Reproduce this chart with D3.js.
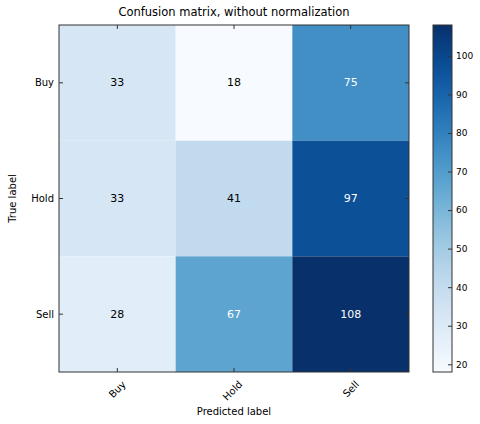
<!DOCTYPE html>
<html><head><meta charset="utf-8">
<script src="https://cdn.jsdelivr.net/npm/d3@7"></script>
<style>body{margin:0;background:#fff;}text{font-family:"DejaVu Sans",sans-serif;}</style>
</head><body><svg id="c" width="480" height="424"></svg>
<script>
const classes = ["Buy","Hold","Sell"];
const row_Buy = [33, 18, 75];
const row_Hold = [33, 41, 97];
const row_Sell = [28, 67, 108];
const matrix = [row_Buy, row_Hold, row_Sell];
const cbTicks = [20,30,40,50,60,70,80,90,100];
const title = "Confusion matrix, without normalization";

const svg = d3.select("#c");
const L=59, R=409, T=25, B=372;
const x = d3.scaleBand().domain(classes).range([L,R]);
const y = d3.scaleBand().domain(classes).range([T,B]);
const all = matrix.flat();
const vmin = d3.min(all), vmax = d3.max(all);
const color = d3.scaleSequential(d3.interpolateBlues).domain([vmin,vmax]);

const cells=[];
matrix.forEach((r,i)=>r.forEach((v,j)=>cells.push({t:classes[i],p:classes[j],v})));
svg.selectAll("rect.cell").data(cells).enter().append("rect")
  .attr("x",d=>x(d.p)).attr("y",d=>y(d.t)).attr("width",x.bandwidth()).attr("height",y.bandwidth())
  .attr("fill",d=>color(d.v));
const thresh = vmax/2;
svg.selectAll("text.val").data(cells).enter().append("text")
  .attr("x",d=>x(d.p)+x.bandwidth()/2).attr("y",d=>y(d.t)+y.bandwidth()/2)
  .attr("text-anchor","middle").attr("dominant-baseline","central")
  .attr("font-size",11).attr("fill",d=>d.v>thresh?"#fff":"#000").text(d=>d.v);
svg.append("rect").attr("x",L).attr("y",T).attr("width",R-L).attr("height",B-T)
  .attr("fill","none").attr("stroke","#333").attr("stroke-width",1);

// ticks inward on all sides
classes.forEach(c=>{
  const cx=x(c)+x.bandwidth()/2, cy=y(c)+y.bandwidth()/2;
  svg.append("line").attr("x1",cx).attr("x2",cx).attr("y1",B).attr("y2",B-4).attr("stroke","#333");
  svg.append("line").attr("x1",cx).attr("x2",cx).attr("y1",T).attr("y2",T+4).attr("stroke","#333");
  svg.append("line").attr("y1",cy).attr("y2",cy).attr("x1",L).attr("x2",L+4).attr("stroke","#333");
  svg.append("line").attr("y1",cy).attr("y2",cy).attr("x1",R).attr("x2",R-4).attr("stroke","#333");
  svg.append("text").attr("x",L-5).attr("y",cy).attr("text-anchor","end").attr("dominant-baseline","central")
    .attr("font-size",10).text(c);
  svg.append("text").attr("transform",`translate(${cx+4},${B+8}) rotate(-45)`).attr("text-anchor","end")
    .attr("dominant-baseline","hanging").attr("font-size",10).text(c);
});
svg.append("text").attr("x",(L+R)/2).attr("y",16).attr("text-anchor","middle").attr("font-size",11.5).text(title);
svg.append("text").attr("x",(L+R)/2).attr("y",415).attr("text-anchor","middle").attr("font-size",10).text("Predicted label");
svg.append("text").attr("transform",`translate(16,${(T+B)/2}) rotate(-90)`).attr("text-anchor","middle").attr("font-size",10).text("True label");

// colorbar
const cbX=433, cbW=19;
const cy2 = d3.scaleLinear().domain([vmin,vmax]).range([B,T]);
const defs=svg.append("defs");
const g=defs.append("linearGradient").attr("id","cb").attr("x1",0).attr("y1",1).attr("x2",0).attr("y2",0);
d3.range(0,1.0001,0.05).forEach(t=>g.append("stop").attr("offset",t).attr("stop-color",color(vmin+t*(vmax-vmin))));
svg.append("rect").attr("x",cbX).attr("y",T).attr("width",cbW).attr("height",B-T).attr("fill","url(#cb)")
  .attr("stroke","#333").attr("stroke-width",1);
const ax = d3.axisRight(cy2).tickValues(cbTicks).tickSize(-4).tickPadding(4);
const ag = svg.append("g").attr("transform",`translate(${cbX+cbW},0)`).call(ax);
ag.select(".domain").remove();
ag.selectAll("text").attr("font-size",9).attr("font-family","DejaVu Sans");
ag.selectAll("line").attr("stroke","#333");
</script></body></html>
